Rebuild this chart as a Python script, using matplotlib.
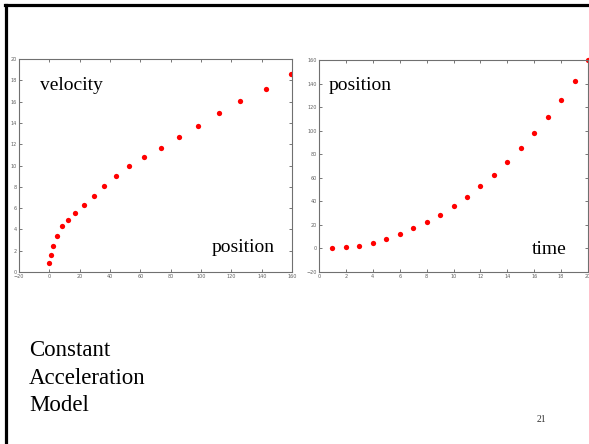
import numpy as np
import matplotlib.pyplot as plt
from matplotlib.lines import Line2D

# velocity vs position (left panel)
pos_v = [0.0, 1.1, 2.2, 5.0, 8.4, 12.5, 17.2, 22.9, 29.3, 36.3,
         44.0, 52.8, 62.7, 73.5, 85.4, 97.9, 111.8, 125.9, 142.6, 159.3]
vel = [0.84, 1.56, 2.47, 3.4, 4.3, 4.9, 5.56, 6.3, 7.1, 8.1,
       9.03, 9.94, 10.84, 11.6, 12.66, 13.75, 14.97, 16.03, 17.16, 18.6]

# position vs time (right panel)
time = [1, 2, 3, 4, 5, 6, 7, 8, 9, 10,
        11, 12, 13, 14, 15, 16, 17, 18, 19, 20]
pos_t = [0.0, 0.8, 2.0, 4.8, 8.2, 12.4, 17.0, 22.3, 28.8, 35.9,
         44.0, 52.8, 62.7, 73.4, 85.0, 97.7, 111.6, 126.3, 142.4, 160.0]

fig = plt.figure(figsize=(5.89, 4.44), dpi=100)
serif = 'Liberation Serif'

def style_axes(ax):
    for s in ax.spines.values():
        s.set_color('#707070')
        s.set_linewidth(0.8)
    ax.tick_params(direction='in', length=2, width=0.6, colors='#606060',
                   labelsize=3.5, top=True, right=True, pad=1.5)

# left panel
ax1 = fig.add_axes([0.0323, 0.3874, 0.4635, 0.4797])
ax1.plot(pos_v, vel, 'o', color='red', markersize=3.8, markeredgewidth=0)
ax1.set_xlim(-20, 160)
ax1.set_ylim(0, 20)
ax1.set_xticks(np.arange(-20, 161, 20))
ax1.set_yticks(np.arange(0, 21, 2))
style_axes(ax1)

# right panel
ax2 = fig.add_axes([0.5416, 0.3874, 0.4567, 0.4775])
ax2.plot(time, pos_t, 'o', color='red', markersize=3.8, markeredgewidth=0, clip_on=False)
ax2.set_xlim(0, 20)
ax2.set_ylim(-20, 160)
ax2.set_xticks(np.arange(0, 21, 2))
ax2.set_yticks(np.arange(-20, 161, 20))
style_axes(ax2)

# labels inside panels
fig.text(40/589, 1 - 85/444, 'velocity', family=serif, fontsize=14, va='center')
fig.text(212/589, 1 - 247/444, 'position', family=serif, fontsize=14, va='center')
fig.text(329/589, 1 - 85/444, 'position', family=serif, fontsize=14, va='center')
fig.text(532/589, 1 - 249/444, 'time', family=serif, fontsize=14, va='center')

# slide text
fig.text(29/589, 1 - 378/444, 'Constant\nAcceleration\nModel', family=serif,
         fontsize=16.5, va='center', linespacing=1.42)
fig.text(537/589, 1 - 419/444, '21', family=serif, fontsize=7,
         va='center', color='#333333')

# slide border (top and left)
fig.add_artist(Line2D([5.5/589, 5.5/589], [0, 1 - 5.5/444],
                      transform=fig.transFigure, color='black', linewidth=2.3))
fig.add_artist(Line2D([4.5/589, 1], [1 - 5.5/444, 1 - 5.5/444],
                      transform=fig.transFigure, color='black', linewidth=2.3))

fig.savefig('out.png', dpi=100)
